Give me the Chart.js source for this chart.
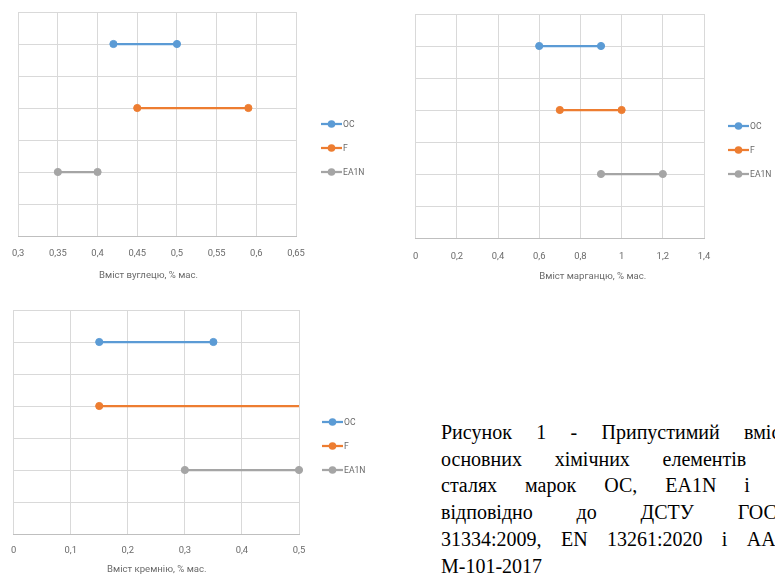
<!DOCTYPE html>
<html>
<head>
<meta charset="utf-8">
<script src="https://cdn.jsdelivr.net/npm/chart.js@4/dist/chart.umd.min.js"></script>
<style>
  html, body { margin: 0; padding: 0; width: 775px; height: 576px; overflow: hidden; background: #ffffff; }
  canvas { position: absolute; }
  #caption { position: absolute; left: 441px; top: 419px; width: 348px;
    font-family: 'Liberation Serif', 'Times New Roman', serif; font-size: 20px; line-height: 26.7px; color: #000; }
  #caption div { text-align: justify; text-align-last: justify; white-space: nowrap; }
  #caption div.last { text-align: left; text-align-last: left; }
</style>
</head>
<body>
<canvas id="c1" width="390" height="290" style="left:0;top:0;width:390px;height:290px"></canvas>
<canvas id="c2" width="375" height="290" style="left:400px;top:0;width:375px;height:290px"></canvas>
<canvas id="c3" width="390" height="286" style="left:0;top:290px;width:390px;height:286px"></canvas>
<div id="caption">
  <div>Рисунок 1 - Припустимий вміст</div>
  <div>основних хімічних елементів у</div>
  <div>сталях марок ОС, EA1N і F</div>
  <div>відповідно до ДСТУ ГОСТ</div>
  <div>31334:2009, EN 13261:2020 і AAR</div>
  <div class="last">M-101-2017</div>
</div>
<script>
// ---- data ----
const seriesNames = ['OC', 'F', 'EA1N'];
const seriesLevel = [6, 4, 2];           // row of each grade on the hidden vertical axis (0..7)
const carbonMin = [0.42, 0.45, 0.35];
const carbonMax = [0.50, 0.59, 0.40];
const manganeseMin = [0.60, 0.70, 0.90];
const manganeseMax = [0.90, 1.00, 1.20];
const siliconMin = [0.15, 0.15, 0.30];
const siliconMax = [0.35, 0.60, 0.50];
const carbonTicks = [0.3, 0.35, 0.4, 0.45, 0.5, 0.55, 0.6, 0.65];
const manganeseTicks = [0, 0.2, 0.4, 0.6, 0.8, 1, 1.2, 1.4];
const siliconTicks = [0, 0.1, 0.2, 0.3, 0.4, 0.5];
const levelTicks = [0, 1, 2, 3, 4, 5, 6, 7];
const carbonTitle = 'Вміст вуглецю, % мас.';
const manganeseTitle = 'Вміст марганцю, % мас.';
const siliconTitle = 'Вміст кремнію, % мас.';

// ---- styles ----
const seriesColors = ['#5B9BD5', '#ED7D31', '#A5A5A5'];
const labelFont = "Roboto, 'Liberation Sans', sans-serif";
const labelColor = '#6a6a6a';
const gridColor = '#d9d9d9';

function fmt(v) { return String(Math.round(v * 1000) / 1000).replace('.', ','); }

const overlay = {
  id: 'overlay',
  afterDraw(chart, args, o) {
    const ctx = chart.ctx, a = chart.chartArea;
    ctx.save();
    ctx.font = o.titleSize + 'px ' + labelFont;
    ctx.fillStyle = labelColor;
    ctx.textAlign = 'center';
    ctx.textBaseline = 'middle';
    ctx.fillText(o.title, (a.left + a.right) / 2 + o.titleDx, a.bottom + o.titleDy);
    ctx.font = o.legendSize + 'px ' + labelFont;
    ctx.textAlign = 'left';
    chart.data.datasets.forEach((ds, i) => {
      const y = (a.top + a.bottom) / 2 + o.legendDy + i * 24;
      const x0 = a.right + o.legendDx;
      ctx.strokeStyle = ds.borderColor;
      ctx.lineWidth = 2.25;
      ctx.beginPath(); ctx.moveTo(x0, y); ctx.lineTo(x0 + 21, y); ctx.stroke();
      ctx.fillStyle = ds.borderColor;
      ctx.beginPath(); ctx.arc(x0 + 10.5, y, 3.8, 0, Math.PI * 2); ctx.fill();
      ctx.fillStyle = labelColor;
      ctx.fillText(ds.label, x0 + 22, y + 0.5);
    });
    ctx.restore();
  }
};

function makeChart(id, mins, maxs, ticks, title, geo) {
  const xMin = ticks[0], xMax = ticks[ticks.length - 1];
  const datasets = seriesNames.map((name, i) => ({
    label: name,
    data: [{ x: mins[i], y: seriesLevel[i] }, { x: maxs[i], y: seriesLevel[i] }],
    showLine: true,
    borderColor: seriesColors[i],
    backgroundColor: seriesColors[i],
    borderWidth: 2.25,
    pointRadius: 3.6,
    pointBorderWidth: 1,
    pointHoverRadius: 3.6,
    clip: (maxs[i] > xMax || mins[i] < xMin) ? 0 : 8
  }));
  return new Chart(document.getElementById(id), {
    type: 'scatter',
    data: { datasets },
    options: {
      responsive: false,
      animation: false,
      devicePixelRatio: 1,
      layout: { padding: { left: geo.left, top: geo.top, right: geo.right, bottom: 0 } },
      plugins: {
        legend: { display: false },
        tooltip: { enabled: false },
        overlay: { title, titleDx: geo.titleDx, titleDy: geo.titleDy, titleSize: 9.6, legendSize: 8.6, legendDx: geo.legendDx, legendDy: 0 }
      },
      scales: {
        x: {
          type: 'linear', min: xMin, max: xMax,
          afterBuildTicks: s => { s.ticks = ticks.map(v => ({ value: v })); },
          afterFit: s => { s.height = geo.xHeight; },
          grid: { color: gridColor, lineWidth: 1, drawTicks: false },
          border: { display: true, color: '#bfbfbf', width: 1 },
          ticks: { padding: geo.tickPad, color: labelColor, font: { family: labelFont, size: 9.4 }, maxRotation: 0, autoSkip: false, callback: v => fmt(v) }
        },
        y: {
          type: 'linear', min: 0, max: 7,
          afterBuildTicks: s => { s.ticks = levelTicks.map(v => ({ value: v })); },
          afterFit: s => { s.width = 0; },
          grid: { color: gridColor, lineWidth: 1, drawTicks: false },
          border: { display: false },
          ticks: { display: false }
        }
      }
    },
    plugins: [overlay]
  });
}

makeChart('c1', carbonMin, carbonMax, carbonTicks, carbonTitle,
  { left: 14, top: 12, right: 94, xHeight: 54, tickPad: 12, titleDx: -8.5, titleDy: 39.5, legendDx: 25 });
makeChart('c2', manganeseMin, manganeseMax, manganeseTicks, manganeseTitle,
  { left: 15, top: 14, right: 71, xHeight: 52, tickPad: 13, titleDx: 33, titleDy: 38.5, legendDx: 24 });
makeChart('c3', siliconMin, siliconMax, siliconTicks, siliconTitle,
  { left: 12, top: 20, right: 91, xHeight: 42, tickPad: 11, titleDx: 0.5, titleDy: 35.5, legendDx: 23 });
</script>
</body>
</html>
